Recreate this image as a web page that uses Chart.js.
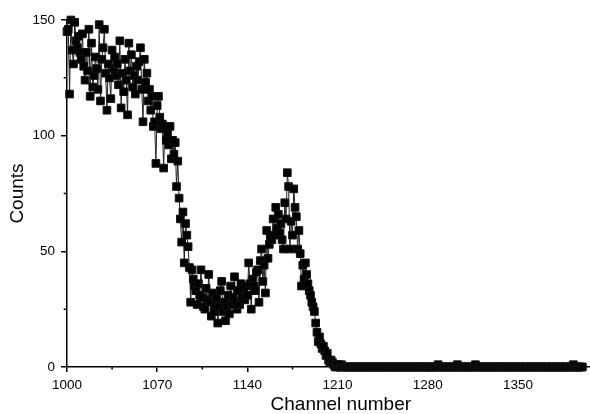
<!DOCTYPE html>
<html>
<head>
<meta charset="utf-8">
<script src="https://cdn.jsdelivr.net/npm/chart.js@4.4.1/dist/chart.umd.min.js"></script>
<style>
  html, body { margin: 0; padding: 0; background: #fff; overflow: hidden; }
  #wrap { width: 590px; height: 414px; overflow: hidden; }
</style>
</head>
<body>
<div id="wrap"><canvas id="chart" width="621" height="414"></canvas></div>
<script>
    const firstChannel = 1000;
    // counts per channel, 1000 .. 1400
    const counts = [
      145,146,118,150,137,131,149,141,138,143,
      136,133,144,130,124,136,128,146,117,140,
      121,126,134,129,120,148,115,133,138,146,
      127,111,131,125,116,137,129,134,126,131,
      122,141,112,127,119,133,124,109,140,128,
      135,121,126,118,130,124,132,138,120,106,
      133,123,127,115,120,111,117,104,106,88,
      113,117,108,103,105,86,104,98,101,96,
      104,90,98,92,97,78,89,73,64,54,
      67,45,62,57,52,43,28,42,38,35,
      33,27,36,31,42,30,26,25,34,29,
      40,28,22,32,24,27,30,19,26,33,
      37,24,28,20,26,31,23,35,27,30,
      39,28,25,33,27,36,30,34,29,35,
      31,45,36,25,38,35,33,41,42,28,
      46,51,37,44,32,59,47,53,56,55,
      64,57,69,60,66,58,62,55,51,71,
      64,84,78,51,63,57,77,69,65,51,
      59,49,35,44,38,45,40,36,33,31,
      28,26,24,19,15,11,13,10,8,9,
      7,5,6,3,2,3,2,1,0,1,
      0,1,0,1,0,0,0,0,0,0,
      0,0,0,0,0,0,0,0,0,0,
      0,0,0,0,0,0,0,0,0,0,
      0,0,0,0,0,0,0,0,0,0,
      0,0,0,0,0,0,0,0,0,0,
      0,0,0,0,0,0,0,0,0,0,
      0,0,0,0,0,0,0,0,0,0,
      0,0,0,0,0,0,0,0,1,0,
      0,0,0,0,0,0,0,0,0,0,
      0,0,0,1,0,0,0,0,0,0,
      0,0,0,0,0,0,0,1,0,0,
      0,0,0,0,0,0,0,0,0,0,
      0,0,0,0,0,0,0,0,0,0,
      0,0,0,0,0,0,0,0,0,0,
      0,0,0,0,0,0,0,0,0,0,
      0,0,0,0,0,0,0,0,0,0,
      0,0,0,0,0,0,0,0,0,0,
      0,0,0,0,0,0,0,0,0,0,
      0,0,0,1,0,0,0,0,0,0,
      0
    ];
    const xTicks = [1000,1070,1140,1210,1280,1350];
    const xMinorTicks = [1035,1105,1175,1245,1315,1385];
    const yTicks = [0,50,100,150];
    const yMinorTicks = [25,75,125];

    const fontFamily = "'Liberation Sans', Arial, sans-serif";
    const points = counts.map((v, i) => ({ x: firstChannel + i, y: v }));

    // small ticks between the labelled ones
    const minorTicks = {
      id: "minorTicks",
      afterDraw(chart) {
        const { ctx, scales: { x, y } } = chart;
        ctx.save();
        ctx.strokeStyle = "#000";
        ctx.lineWidth = 1.5;
        ctx.beginPath();
        xMinorTicks.forEach(v => {
          const px = x.getPixelForValue(v);
          ctx.moveTo(px, x.top);
          ctx.lineTo(px, x.top + 2.5);
        });
        yMinorTicks.forEach(v => {
          const py = y.getPixelForValue(v);
          ctx.moveTo(y.right, py);
          ctx.lineTo(y.right - 3.3, py);
        });
        ctx.stroke();
        ctx.restore();
      }
    };

    const ctx = document.getElementById("chart").getContext("2d");
    new Chart(ctx, {
      type: "scatter",
      data: {
        datasets: [{
          data: points,
          showLine: true,
          borderColor: "#222",
          borderWidth: 1,
          pointStyle: "rect",
          pointRadius: 5.4,
          pointBackgroundColor: "#000",
          pointBorderColor: "#111",
          pointBorderWidth: 1,
          clip: false
        }]
      },
      options: {
        responsive: false,
        animation: false,
        layout: { padding: { top: 20, right: 0, left: 0, bottom: 0 } },
        plugins: { legend: { display: false }, tooltip: { enabled: false } },
        scales: {
          x: {
            type: "linear",
            min: 1000,
            max: 1425,
            afterBuildTicks: s => { s.ticks = xTicks.map(v => ({ value: v })); },
            afterFit: s => { s.height = 47; },
            border: { color: "#000", width: 1.5 },
            grid: { drawOnChartArea: false, drawTicks: true, tickLength: 5, color: "#000", lineWidth: 1.5 },
            ticks: {
              color: "#000", padding: 5, maxRotation: 0,
              font: { family: fontFamily, size: 13.5 },
              callback: v => String(v)
            },
            title: {
              display: true, text: "Channel number", color: "#000",
              padding: { top: 0, bottom: 0 },
              font: { family: fontFamily, size: 19, lineHeight: 1 }
            }
          },
          y: {
            type: "linear",
            min: 0,
            max: 150,
            afterBuildTicks: s => { s.ticks = yTicks.map(v => ({ value: v })); },
            afterFit: s => { s.width = 67; },
            border: { color: "#000", width: 1.5 },
            grid: { drawOnChartArea: false, drawTicks: true, tickLength: 6, color: "#000", lineWidth: 1.5 },
            ticks: {
              color: "#000", padding: 6,
              font: { family: fontFamily, size: 13.5 },
              callback: v => String(v)
            },
            title: {
              display: true, text: "Counts", color: "#000",
              padding: { top: 8.5, bottom: 0 },
              font: { family: fontFamily, size: 19, lineHeight: 1 }
            }
          }
        }
      },
      plugins: [minorTicks]
    });
</script>
</body>
</html>
